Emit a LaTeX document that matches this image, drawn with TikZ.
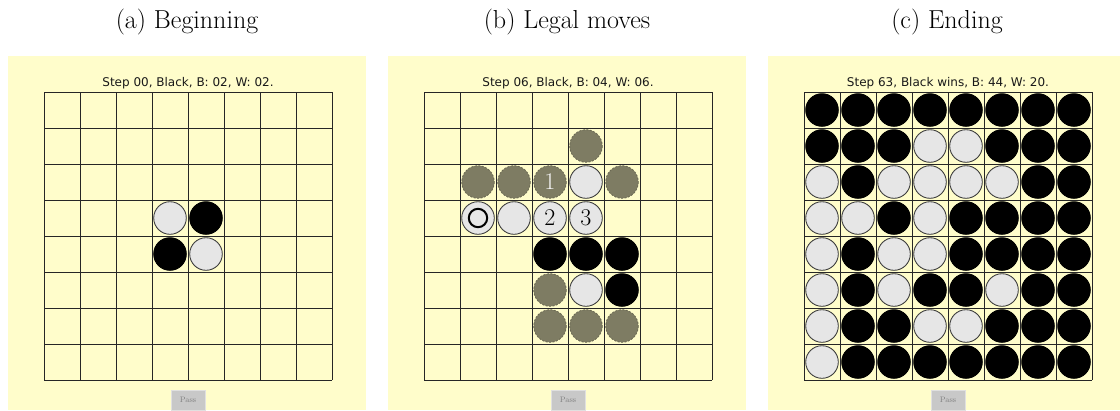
\documentclass[tikz,border=0pt]{standalone}
\usepackage{fontspec}
\newfontfamily\djv{DejaVu Sans}
\definecolor{bg}{HTML}{FFFDCB}
\definecolor{ghost}{HTML}{7E7C63}
\definecolor{ghostline}{HTML}{6A6852}
\definecolor{wpiece}{HTML}{E6E6E6}
\definecolor{btn}{HTML}{C8C8C8}
\begin{document}
\begin{tikzpicture}[x=1pt,y=-1pt,
  panel/.style={fill=bg,draw=none},
  gridline/.style={draw=black!85,line width=0.95pt},
  wp/.style={fill=wpiece,draw=black!75,line width=0.9pt},
  bp/.style={fill=black,draw=black,line width=0.9pt},
  gp/.style={fill=ghost,draw=ghostline,dashed,dash pattern=on 2pt off 1.5pt,line width=0.8pt},
  caption/.style={font=\fontsize{26}{30}\selectfont,anchor=base},
  title/.style={font=\djv\fontsize{12}{14}\selectfont,anchor=base,text=black!90},
  num/.style={font=\fontsize{24}{28}\selectfont,inner sep=0pt},
  passbtn/.style={fill=btn,draw=black!12,line width=0.8pt,minimum width=34pt,minimum height=20pt,inner sep=0pt,font=\fontsize{8}{9}\selectfont,text=black!50}]
\useasboundingbox (0,0) rectangle (1120,410);
% panels
\foreach \p in {0,1,2}{
  \pgfmathsetmacro{\pl}{8+380*\p}
  \fill[panel] (\pl,56) rectangle ({min(\pl+358,1120)},410);
  \pgfmathsetmacro{\bl}{\pl+36}
  \foreach \i in {0,...,8}{
    \draw[gridline] ({\bl+36*\i},92) -- ({\bl+36*\i},380);
    \draw[gridline] (\bl,{92+36*\i}) -- ({\bl+288},{92+36*\i});
  }
  \node[passbtn] (pass\p) at ({\bl+144},400) {Pass};
}
% captions and titles
\node[caption] (capa) at (187,28) {(a) Beginning};
\node[caption] (capb) at (567,28) {(b) Legal moves};
\node[caption] (capc) at (947,28) {(c) Ending};
\node[title] (ta) at (188,86) {Step 00, Black, B: 02, W: 02.};
\node[title] (tb) at (568,86) {Step 06, Black, B: 04, W: 06.};
\node[title] (tc) at (948,86) {Step 63, Black wins, B: 44, W: 20.};
% board (a)
\def\R{16.3}
\foreach \r/\c/\k in {3/3/w,3/4/b,4/3/b,4/4/w}{
  \pgfmathsetmacro{\cx}{44+36*\c+18}
  \pgfmathsetmacro{\cy}{92+36*\r+18}
  \path[\k p] (\cx,\cy) circle (\R);
}
% board (b)
\foreach \r/\c/\k in {1/4/g,2/1/g,2/2/g,2/3/g,2/4/w,2/5/g,3/1/w,3/2/w,3/3/w,3/4/w,4/3/b,4/4/b,4/5/b,5/3/g,5/4/w,5/5/b,6/3/g,6/4/g,6/5/g}{
  \pgfmathsetmacro{\cx}{424+36*\c+18}
  \pgfmathsetmacro{\cy}{92+36*\r+18}
  \path[\k p] (\cx,\cy) circle (\R);
}
\draw[black,line width=2pt] (424+54,92+126) circle (9.2);
\node[num,text=white!96!black] (n1) at (424+126,92+90) {1};
\node[num] (n2) at (424+126,92+126) {2};
\node[num] (n3) at (424+162,92+126) {3};
% board (c)
\foreach \row [count=\r from 0] in {{1,1,1,1,1,1,1,1},{1,1,1,0,0,1,1,1},{0,1,0,0,0,0,1,1},{0,0,1,0,1,1,1,1},{0,1,0,0,1,1,1,1},{0,1,0,1,1,0,1,1},{0,1,1,0,0,1,1,1},{0,1,1,1,1,1,1,1}}{
  \foreach \v [count=\c from 0] in \row {
    \pgfmathsetmacro{\cx}{804+36*\c+18}
    \pgfmathsetmacro{\cy}{92+36*\r+18}
    \ifnum\v=1 \path[bp] (\cx,\cy) circle (\R); \else \path[wp] (\cx,\cy) circle (\R); \fi
  }
}
\end{tikzpicture}
\end{document}
